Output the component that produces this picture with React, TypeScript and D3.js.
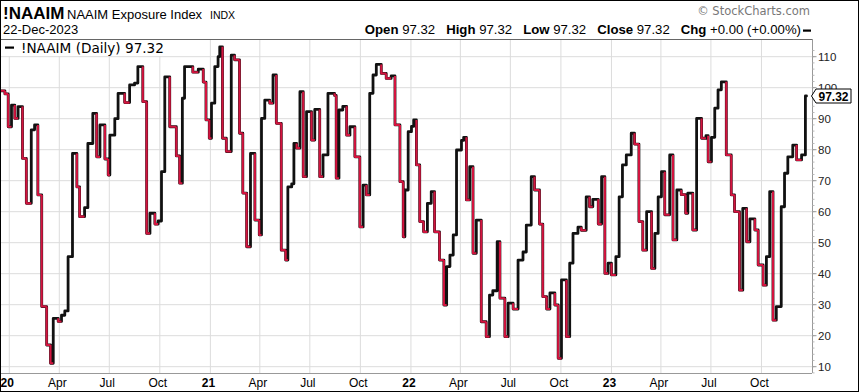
import React from "react";
import * as d3 from "d3";

const W = 859;
const H = 392;

// Weekly NAAIM Exposure Index readings (change dates and values)
const dates = [
  "2019-12-15","2019-12-24","2019-12-30","2020-01-05","2020-01-11","2020-01-17","2020-01-25","2020-02-01","2020-02-10","2020-02-16",
  "2020-02-22","2020-02-29","2020-03-09","2020-03-16","2020-03-21","2020-03-30","2020-04-05","2020-04-11","2020-04-17","2020-04-25",
  "2020-05-03","2020-05-08","2020-05-17","2020-05-23","2020-06-01","2020-06-08","2020-06-14","2020-06-23","2020-06-29","2020-07-02",
  "2020-07-11","2020-07-17","2020-07-29","2020-08-07","2020-08-16","2020-08-22","2020-08-31","2020-09-07","2020-09-13","2020-09-22",
  "2020-09-28","2020-10-04","2020-10-10","2020-10-19","2020-10-31","2020-11-06","2020-11-11","2020-11-15","2020-11-30","2020-12-10",
  "2020-12-19","2020-12-24","2020-12-30","2021-01-03","2021-01-09","2021-01-15","2021-01-18","2021-01-23","2021-01-30","2021-02-08",
  "2021-02-14","2021-02-23","2021-03-01","2021-03-08","2021-03-15","2021-03-23","2021-03-31","2021-04-04","2021-04-10","2021-04-19",
  "2021-04-25","2021-05-01","2021-05-10","2021-05-18","2021-05-22","2021-05-29","2021-06-02","2021-06-07","2021-06-13","2021-06-19",
  "2021-06-25","2021-07-04","2021-07-10","2021-07-19","2021-07-25","2021-08-03","2021-08-15","2021-08-18","2021-08-23","2021-08-30",
  "2021-09-06","2021-09-12","2021-09-21","2021-09-30","2021-10-06","2021-10-12","2021-10-18","2021-10-24","2021-10-30","2021-11-08",
  "2021-11-17","2021-11-26","2021-12-03","2021-12-12","2021-12-18","2021-12-21","2021-12-27","2022-01-02","2022-01-06","2022-01-11",
  "2022-01-17","2022-01-24","2022-01-31","2022-02-07","2022-02-13","2022-02-22","2022-03-02","2022-03-07","2022-03-13","2022-03-19",
  "2022-03-25","2022-04-03","2022-04-07","2022-04-12","2022-04-18","2022-04-24","2022-04-30","2022-05-09","2022-05-18","2022-05-24",
  "2022-05-30","2022-06-07","2022-06-12","2022-06-21","2022-06-27","2022-07-06","2022-07-15","2022-07-24","2022-07-30","2022-08-08",
  "2022-08-14","2022-08-23","2022-08-29","2022-09-05","2022-09-11","2022-09-20","2022-09-26","2022-10-02","2022-10-11","2022-10-17",
  "2022-10-23","2022-11-01","2022-11-07","2022-11-16","2022-11-22","2022-11-28","2022-12-08","2022-12-14","2022-12-20","2022-12-26",
  "2023-01-01","2023-01-09","2023-01-15","2023-01-21","2023-01-28","2023-02-06","2023-02-12","2023-02-20","2023-02-27","2023-03-06",
  "2023-03-15","2023-03-21","2023-03-27","2023-04-02","2023-04-08","2023-04-17","2023-04-23","2023-04-30","2023-05-08","2023-05-16",
  "2023-05-20","2023-05-29","2023-06-05","2023-06-14","2023-06-22","2023-06-26","2023-07-02","2023-07-08","2023-07-14","2023-07-20",
  "2023-07-29","2023-08-07","2023-08-13","2023-08-22","2023-08-28","2023-09-04","2023-09-10","2023-09-19","2023-09-25","2023-10-04",
  "2023-10-10","2023-10-16","2023-10-22","2023-10-28","2023-11-06","2023-11-12","2023-11-18","2023-11-27","2023-12-04","2023-12-13",
  "2023-12-20",
];
const values = [
  99, 98, 87.4, 94.4, 90.1, 93.9, 77.2, 62.7, 86.4, 88,
  65.4, 29.4, 17, 11.1, 25.6, 24.6, 26.6, 28, 45.5, 78.8,
  68, 58.4, 61.3, 82, 91.7, 77.7, 88, 77, 71.8, 84.7,
  90, 98.2, 95.2, 100.9, 101.5, 106.8, 95.5, 53, 59.5, 56,
  57, 72.9, 103.5, 87.4, 78, 69.2, 96.6, 106.8, 105, 106,
  101.8, 89.6, 83.7, 95, 106.8, 110, 113.2, 83.7, 79.4, 110.5,
  109, 85.3, 66, 48.7, 78.8, 57.3, 52.5, 90.1, 96, 95,
  104.1, 88.5, 47.6, 44.4, 68, 69, 82, 80.5, 98.7, 71.3,
  92.3, 83.1, 93, 71.3, 78.3, 98.2, 97.5, 70.8, 92.8, 94,
  84.7, 87.4, 77.7, 55.1, 68.6, 65.4, 98.2, 104.1, 107.5, 104.6,
  103, 103.8, 88, 69.7, 51.9, 67, 85.8, 87.5, 89.6, 75.1,
  56.8, 53.5, 62.7, 66.5, 53.5, 44.4, 29.9, 42.3, 46, 52.5,
  79.9, 83, 84, 63.8, 74.5, 46.6, 57.3, 24.5, 19.7, 33.1,
  34.5, 50.3, 32.1, 19.7, 30.5, 28.6, 44.4, 47, 55.7, 71.3,
  67, 56, 32.6, 28.6, 33.8, 29.9, 12.7, 38, 19.7, 43.4,
  53, 55, 54, 64.8, 61.6, 64, 56, 71.3, 40.1, 43.4,
  39.6, 45.5, 64.8, 75.1, 78.3, 85.3, 81.8, 56.8, 47.6, 60,
  41.7, 53, 64.8, 72.9, 59, 78.3, 50.9, 67, 65.5, 59.5,
  66, 54.1, 90.1, 83.7, 84.5, 76.1, 84, 93.4, 99.3, 101.9,
  78.3, 65.4, 60, 34.7, 61.1, 50.3, 57.7, 54.1, 42.8, 36.3,
  45.5, 66.5, 25, 29.4, 61.6, 72.4, 77.7, 81.5, 76.7, 78.3,
  97.32,
];
const lastDate = "2023-12-22";
const lastValue = 97.32;

const yTicks = [10, 20, 30, 40, 50, 60, 70, 80, 90, 100, 110];
const xTickDates = [
  "2020-01-01","2020-04-01","2020-07-01","2020-10-01",
  "2021-01-01","2021-04-01","2021-07-01","2021-10-01",
  "2022-01-01","2022-04-01","2022-07-01","2022-10-01",
  "2023-01-01","2023-04-01","2023-07-01","2023-10-01",
];
const xTickLabels = ["20","Apr","Jul","Oct","21","Apr","Jul","Oct","22","Apr","Jul","Oct","23","Apr","Jul","Oct"];

const RED = "#d3143f";
const GRID = "#dcdcdc";

export default function App() {
  const parse = d3.timeParse("%Y-%m-%d");
  const left = 0.5, right = 812, top = 39, bottom = 373;
  const x = d3.scaleTime().domain([parse("2020-01-01")!, parse("2024-01-01")!]).range([9.3, 812]);
  const y = d3.scaleLinear().domain([10, 110]).range([366.7, 56.7]);

  const pts = dates.map((d, i) => ({ t: parse(d)!, v: values[i] }));
  const allPts = [...pts, { t: parse(lastDate)!, v: lastValue }];
  const line = d3.line<{ t: Date; v: number }>().x(d => x(d.t)).y(d => y(d.v)).curve(d3.curveStepAfter);
  const seg = d3.line<[number, number]>();

  const segments = pts.map((p, i) => {
    const prev = i > 0 ? values[i - 1] : values[0];
    const up = i > 0 && p.v > prev;
    const nextT = i + 1 < pts.length ? pts[i + 1].t : parse(lastDate)!;
    const coords: [number, number][] = [
      [x(p.t), y(prev)],
      [x(p.t), y(p.v)],
      [x(nextT), y(p.v)],
    ];
    return { d: seg(coords)!, up };
  });

  const minorTicks = d3.range(8, 113, 2);
  const font = "'Liberation Sans', Arial, sans-serif";
  const yLast = y(lastValue);

  return (
    <svg width={W} height={H} style={{ position: "absolute", left: 0, top: 0, background: "#fff" }}>
      <rect x={0} y={0} width={W} height={H} fill="#fff" />
      {/* header */}
      <text x={3} y={19} fontFamily={font} fontWeight="bold" fontSize={17} fill="#000">!NAAIM</text>
      <text x={67} y={19} fontFamily={font} fontSize={13} fill="#000">NAAIM Exposure Index</text>
      <text x={210} y={19} fontFamily={font} fontSize={10.5} fill="#000">INDX</text>
      <text x={3} y={34} fontFamily={font} fontSize={13} fill="#000">22-Dec-2023</text>
      <text x={810} y={15} fontFamily="'DejaVu Sans', sans-serif" fontSize={11.5} fill="#777" textAnchor="end">© StockCharts.com</text>
      <text x={801} y={34} fontFamily={font} fontSize={13.2} fill="#000" textAnchor="end" style={{ whiteSpace: "pre" }}>
        <tspan fontWeight="bold">Open</tspan><tspan> 97.32   </tspan>
        <tspan fontWeight="bold">High</tspan><tspan> 97.32   </tspan>
        <tspan fontWeight="bold">Low</tspan><tspan> 97.32   </tspan>
        <tspan fontWeight="bold">Close</tspan><tspan> 97.32   </tspan>
        <tspan fontWeight="bold">Chg</tspan><tspan> +0.00 (+0.00%)</tspan>
      </text>
      <rect x={803} y={29.5} width={8} height={2.2} fill="#000" />

      {/* grid */}
      {yTicks.map(t => (
        <line key={"gy" + t} x1={left} x2={right} y1={y(t)} y2={y(t)} stroke={GRID} strokeWidth={1} />
      ))}
      {xTickDates.map(d => (
        <line key={"gx" + d} x1={x(parse(d)!)} x2={x(parse(d)!)} y1={top} y2={bottom} stroke={GRID} strokeWidth={1} />
      ))}

      {/* series */}
      <defs>
        <clipPath id="plotclip">
          <rect x={left} y={top} width={right - left} height={bottom - top} />
        </clipPath>
      </defs>
      <g clipPath="url(#plotclip)">
        <path d={line(allPts)!} fill="none" stroke="#111" strokeWidth={2.8} strokeLinejoin="round" strokeLinecap="round" />
        {segments.filter(s => !s.up).map((s, i) => (
          <path key={"r" + i} d={s.d} fill="none" stroke={RED} strokeWidth={2.1} strokeLinejoin="round" strokeLinecap="butt" />
        ))}
      </g>

      {/* legend */}
      <rect x={1} y={40} width={170} height={16} fill="#fff" />
      <rect x={5} y={46.5} width={9} height={2.2} fill="#000" />
      <text x={21} y={52.5} fontFamily="'DejaVu Sans', sans-serif" fontSize={13.6} fill="#000">!NAAIM (Daily) 97.32</text>

      {/* plot frame */}
      <line x1={0.5} x2={right} y1={top + 0.5} y2={top + 0.5} stroke="#666" />
      <line x1={0.5} x2={right} y1={bottom + 0.5} y2={bottom + 0.5} stroke="#999" />
      <line x1={right + 0.5} x2={right + 0.5} y1={top} y2={bottom} stroke="#999" />

      {/* right axis */}
      {minorTicks.map(t => (
        <line key={"mt" + t} x1={right + 0.5} x2={right + 2.5} y1={y(t)} y2={y(t)} stroke="#bbb" />
      ))}
      {yTicks.map(t => (
        <g key={"yt" + t}>
          <line x1={right + 0.5} x2={right + 4.5} y1={y(t)} y2={y(t)} stroke="#999" />
          <text x={818} y={y(t) + 4} fontFamily={font} fontSize={11.5} fill="#222">{t}</text>
        </g>
      ))}

      {/* last value tag */}
      <path
        d={`M ${right - 0.5} ${yLast} L ${right + 4} ${yLast - 7} L 851 ${yLast - 7} L 851 ${yLast + 7} L ${right + 4} ${yLast + 7} Z`}
        fill="#fff" stroke="#000" strokeWidth={1}
      />
      <text x={833.5} y={yLast + 4.5} fontFamily={font} fontWeight="bold" fontSize={12} textAnchor="middle" fill="#000">97.32</text>

      {/* bottom axis labels */}
      {xTickDates.map((d, i) => (
        <text key={"xl" + d} x={x(parse(d)!) - 2} y={387} fontFamily={font} fontSize={12}
          fontWeight={xTickLabels[i].length === 2 ? "bold" : "normal"} textAnchor="middle" fill="#000">
          {xTickLabels[i]}
        </text>
      ))}

      {/* outer border */}
      <rect x={0.5} y={0.5} width={W - 1} height={H - 1} fill="none" stroke="#000" strokeWidth={1} />
    </svg>
  );
}
